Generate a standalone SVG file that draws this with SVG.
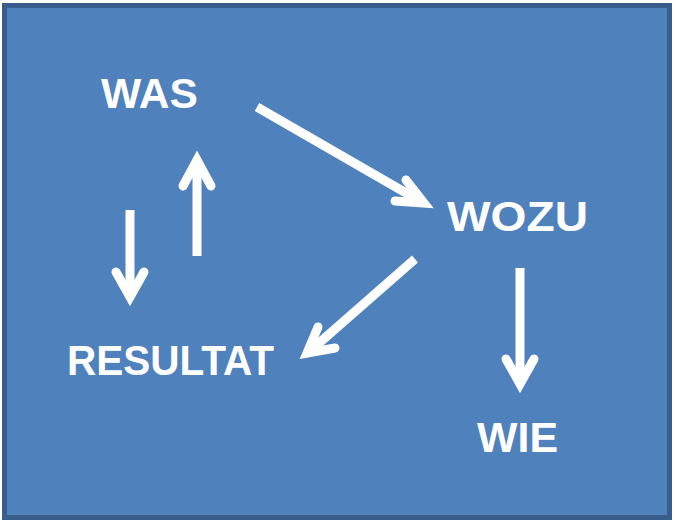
<svg xmlns="http://www.w3.org/2000/svg" width="678" height="521" viewBox="0 0 678 521">
<style>
.lbl{font-family:"Liberation Sans",Arial,sans-serif;font-weight:bold;font-size:43px;fill:#FFFFFF}
.shaft{stroke:#FFFFFF;stroke-width:9;fill:none;stroke-linecap:butt}
.head{stroke:#FFFFFF;stroke-width:9;fill:none;stroke-linecap:round;stroke-linejoin:miter;stroke-miterlimit:10}
</style>
<rect x="4.5" y="5.5" width="665" height="512" fill="#4F81BD" stroke="#385D8A" stroke-width="5"/>
<g id="node-was"><text class="lbl" x="101" y="108" textLength="97" lengthAdjust="spacingAndGlyphs">WAS</text></g>
<g id="node-wozu"><text class="lbl" x="447" y="231" textLength="141" lengthAdjust="spacingAndGlyphs">WOZU</text></g>
<g id="node-resultat"><text class="lbl" x="67" y="375" textLength="207" lengthAdjust="spacingAndGlyphs">RESULTAT</text></g>
<g id="node-wie"><text class="lbl" x="477" y="452" textLength="81" lengthAdjust="spacingAndGlyphs">WIE</text></g>
<g id="connectors">
<line class="shaft" x1="257" y1="107" x2="420" y2="201"/>
<polyline class="head" points="406,180 424,203 395,201"/>
<line class="shaft" x1="197" y1="256" x2="197" y2="162"/>
<polyline class="head" points="183,186 197,160 211,186"/>
<line class="shaft" x1="130" y1="210" x2="130" y2="295"/>
<polyline class="head" points="116,272 130,297 144,272"/>
<line class="shaft" x1="415" y1="259" x2="310" y2="351"/>
<polyline class="head" points="318,327 307,353 335,348"/>
<line class="shaft" x1="520" y1="268" x2="520" y2="381"/>
<polyline class="head" points="506,359 520,384 534,359"/>
</g>
</svg>
